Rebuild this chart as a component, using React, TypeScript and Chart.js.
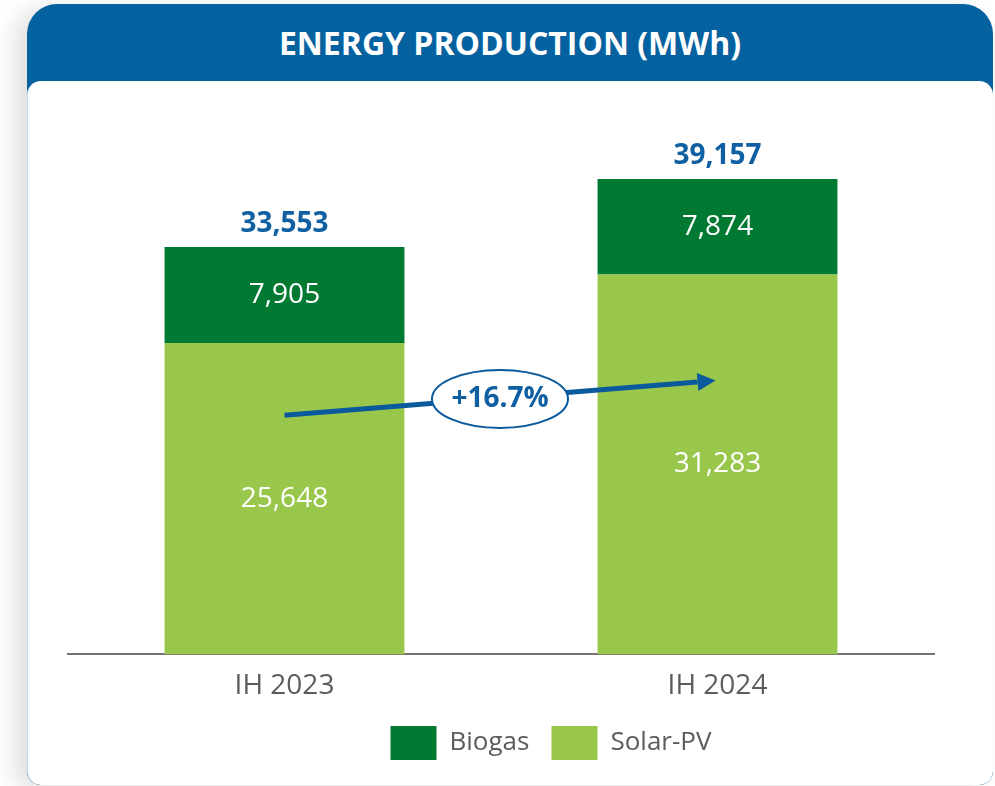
import React, { useEffect, useRef } from "react";
import { Chart, registerables } from "chart.js";

Chart.register(...registerables);

const categories = ["IH 2023", "IH 2024"];
const solarPV = [25648, 31283];
const biogas = [7905, 7874];
const totals = [33553, 39157];
const seriesNames = ["Solar-PV", "Biogas"];
const arrowFromValue = 19700;
const arrowToValue = 22550;

const FONT = '"Open Sans", "DejaVu Sans", sans-serif';
const GREEN_DARK = "#007A33";
const GREEN_LIGHT = "#99C74B";
const BLUE = "#0F5FA3";
const GREY = "#5F5B5B";

const fmt = (v: number) => v.toLocaleString("en-US");

const legendShiftPlugin = {
  id: "legendShift",
  afterLayout(chart: any) {
    const lg = chart.legend;
    if (lg) {
      lg.left += 50;
      lg.right += 50;
      lg.top -= 14;
      lg.bottom -= 14;
    }
  },
};

const overlayPlugin = {
  id: "overlay",
  afterDatasetsDraw(chart: any) {
    const ctx = chart.ctx;
    const y = chart.scales.y;
    const m0 = chart.getDatasetMeta(0);
    const m1 = chart.getDatasetMeta(1);
    ctx.save();
    ctx.textAlign = "center";
    ctx.textBaseline = "middle";
    [m0, m1].forEach((meta: any, di: number) => {
      meta.data.forEach((bar: any, i: number) => {
        const v = chart.data.datasets[di].data[i];
        ctx.fillStyle = "#FFFFFF";
        ctx.font = `28px ${FONT}`;
        ctx.fillText(fmt(v), bar.x, (bar.y + bar.base) / 2);
      });
    });
    m1.data.forEach((bar: any, i: number) => {
      ctx.fillStyle = BLUE;
      ctx.font = `bold 28px ${FONT}`;
      ctx.fillText(fmt(totals[i]), bar.x, bar.y - 23);
    });
    const x0 = m0.data[0].x;
    const x1 = m0.data[1].x - 2;
    const y0 = y.getPixelForValue(arrowFromValue);
    const y1 = y.getPixelForValue(arrowToValue);
    const ang = Math.atan2(y1 - y0, x1 - x0);
    const headLen = 18;
    const headHalf = 9;
    const bx = x1 - headLen * Math.cos(ang);
    const by = y1 - headLen * Math.sin(ang);
    ctx.strokeStyle = "#0A5A9C";
    ctx.fillStyle = "#0A5A9C";
    ctx.lineWidth = 5;
    ctx.beginPath();
    ctx.moveTo(x0, y0);
    ctx.lineTo(bx, by);
    ctx.stroke();
    ctx.beginPath();
    ctx.moveTo(x1, y1);
    ctx.lineTo(bx + headHalf * Math.sin(ang), by - headHalf * Math.cos(ang));
    ctx.lineTo(bx - headHalf * Math.sin(ang), by + headHalf * Math.cos(ang));
    ctx.closePath();
    ctx.fill();
    const cx = (x0 + x1) / 2;
    const cy = (y0 + y1) / 2 + 1;
    ctx.beginPath();
    ctx.ellipse(cx, cy, 68, 29, 0, 0, Math.PI * 2);
    ctx.fillStyle = "#FFFFFF";
    ctx.fill();
    ctx.lineWidth = 2;
    ctx.strokeStyle = "#0A5A9C";
    ctx.stroke();
    const growth = ((totals[1] - totals[0]) / totals[0]) * 100;
    ctx.fillStyle = BLUE;
    ctx.font = `bold 28px ${FONT}`;
    ctx.fillText(`+${growth.toFixed(1)}%`, cx, cy);
    ctx.restore();
  },
};

export default function App() {
  const canvasRef = useRef<HTMLCanvasElement>(null);

  useEffect(() => {
    document.body.style.margin = "0";
    if (!canvasRef.current) return;
    const chart = new Chart(canvasRef.current, {
      type: "bar",
      data: {
        labels: categories,
        datasets: [
          {
            label: seriesNames[0],
            data: solarPV,
            backgroundColor: GREEN_LIGHT,
            barPercentage: 0.554,
            categoryPercentage: 1,
          },
          {
            label: seriesNames[1],
            data: biogas,
            backgroundColor: GREEN_DARK,
            barPercentage: 0.554,
            categoryPercentage: 1,
          },
        ],
      },
      options: {
        responsive: false,
        animation: false,
        layout: { padding: { left: 68, right: 61, top: 108, bottom: 2 } },
        scales: {
          x: {
            stacked: true,
            grid: { display: false, drawTicks: false },
            border: { display: true, color: "#767171", width: 2 },
            ticks: { color: GREY, font: { family: FONT, size: 28 }, padding: 15 },
          },
          y: { stacked: true, display: false, min: 0, max: 45000 },
        },
        plugins: {
          legend: {
            position: "bottom",
            reverse: true,
            labels: {
              boxWidth: 46,
              boxHeight: 34,
              color: GREY,
              font: { family: FONT, size: 26 },
              padding: 22,
            },
          },
          tooltip: { enabled: false },
        },
      },
      plugins: [overlayPlugin, legendShiftPlugin],
    });
    return () => chart.destroy();
  }, []);

  return (
    <div style={{ position: "relative", width: 995, height: 786, overflow: "hidden", background: "#FFFFFF" }}>
      <div
        style={{
          position: "absolute",
          left: 27,
          top: 4,
          width: 966,
          height: 781,
          borderRadius: "30px 30px 14px 14px",
          background: "linear-gradient(#0562A0, #045A96)",
          boxShadow: "-12px 4px 24px rgba(0,0,0,0.13)",
          overflow: "hidden",
        }}
      >
        <div
          style={{
            position: "absolute",
            left: 0,
            top: 0,
            width: "100%",
            height: 77,
            display: "flex",
            alignItems: "center",
            justifyContent: "center",
            color: "#FFFFFF",
            fontFamily: FONT,
            fontWeight: 700,
            fontSize: 32,
            boxSizing: "border-box",
          }}
        >
          ENERGY PRODUCTION (MWh)
        </div>
        <div
          style={{
            position: "absolute",
            left: 0,
            top: 77,
            width: "100%",
            height: 704,
            background: "#FFFFFF",
            borderRadius: "14px 14px 14px 14px",
            borderLeft: "1px solid #C9DCEB",
            boxSizing: "border-box",
          }}
        />
      </div>
      <canvas
        ref={canvasRef}
        width={995}
        height={786}
        style={{ position: "absolute", left: 0, top: 0 }}
      />
    </div>
  );
}
